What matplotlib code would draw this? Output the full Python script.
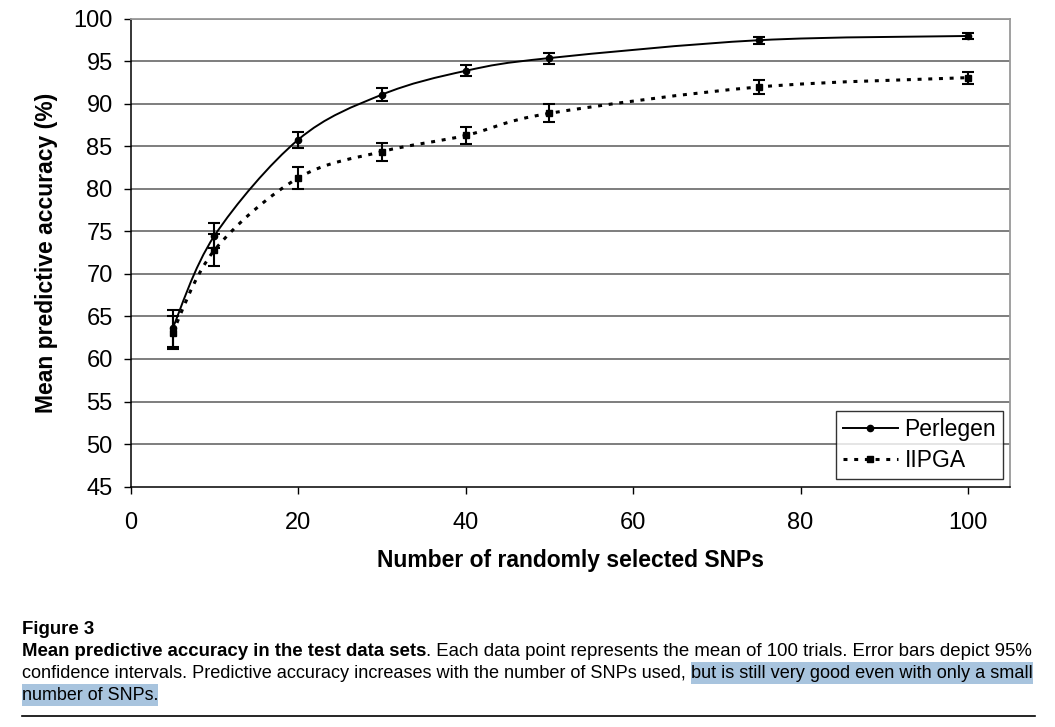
import numpy as np
import matplotlib
matplotlib.use("Agg")
import matplotlib.pyplot as plt
from matplotlib.path import Path
from matplotlib.patches import PathPatch, Rectangle
from matplotlib.lines import Line2D

plt.rcParams['font.family'] = ['Liberation Sans', 'DejaVu Sans']

# data
snps = [5, 10, 20, 30, 40, 50, 75, 100]
perlegen = [63.6, 74.5, 85.8, 91.1, 93.9, 95.4, 97.5, 98.0]
perlegen_err = [2.2, 1.5, 0.95, 0.75, 0.65, 0.65, 0.4, 0.35]
iipga = [63.1, 72.8, 81.3, 84.4, 86.3, 88.9, 92.0, 93.1]
iipga_err = [1.9, 1.9, 1.3, 1.05, 1.05, 1.05, 0.8, 0.7]

yticks = list(range(45, 101, 5))
xticks = [0, 20, 40, 60, 80, 100]


def smooth_path(x, y):
    # excel-style smoothed line: cubic bezier through the points
    p = np.column_stack([x, y]).astype(float)
    n = len(p)
    verts = [p[0]]
    codes = [Path.MOVETO]
    for i in range(n - 1):
        p0 = p[i - 1] if i > 0 else p[i]
        p3 = p[i + 2] if i + 2 < n else p[i + 1]
        c1 = p[i] + (p[i + 1] - p0) / 6.0
        c2 = p[i + 1] - (p3 - p[i]) / 6.0
        verts += [c1, c2, p[i + 1]]
        codes += [Path.CURVE4] * 3
    return Path(verts, codes)


fig = plt.figure(figsize=(10.55, 7.27), dpi=100)
ax = fig.add_axes([0.1239, 0.3308, 0.8334, 0.6431])

ax.set_xlim(0, 105)
ax.set_ylim(45, 100)
ax.set_yticks(yticks)
ax.set_xticks(xticks)
ax.tick_params(axis='y', direction='out', length=5, width=1, pad=8, labelsize=17)
ax.tick_params(axis='x', direction='out', length=5, width=1, pad=13, labelsize=17)

for y in yticks[1:]:
    ax.axhline(y, color='#5a5a5a', lw=1.1, zorder=1)

for side in ['top', 'right']:
    ax.spines[side].set_color('#999999')
    ax.spines[side].set_linewidth(1.3)
for side in ['left', 'bottom']:
    ax.spines[side].set_color('black')
    ax.spines[side].set_linewidth(1.1)

dotted = (0, (1.3, 2.2))

ax.add_patch(PathPatch(smooth_path(snps, perlegen), fill=False, ec='black', lw=1.4, zorder=3))
ax.add_patch(PathPatch(smooth_path(snps, iipga), fill=False, ec='black', lw=2.2,
                       linestyle=dotted, zorder=3))

ax.errorbar(snps, perlegen, yerr=perlegen_err, fmt='none', ecolor='black',
            elinewidth=1.5, capsize=4.5, capthick=1.5, zorder=4)
ax.errorbar(snps, iipga, yerr=iipga_err, fmt='none', ecolor='black',
            elinewidth=1.5, capsize=4.5, capthick=1.5, zorder=4)
ax.plot(snps, perlegen, 'o', color='black', ms=4.5, zorder=5)
ax.plot(snps, iipga, 's', color='black', ms=4.5, zorder=5)

ax.set_xlabel('Number of randomly selected SNPs', fontsize=16.5, fontweight='bold', labelpad=11)
ax.set_ylabel('Mean predictive accuracy (%)', fontsize=16.5, fontweight='bold', labelpad=11)

handles = [
    Line2D([], [], color='black', lw=1.4, marker='o', ms=4.5),
    Line2D([], [], color='black', lw=2.2, linestyle=dotted, marker='s', ms=4.5),
]
leg = ax.legend(handles, ['Perlegen', 'IIPGA'], loc='lower right', fontsize=16.5,
                frameon=True, fancybox=False, handlelength=2.4, handletextpad=0.3,
                borderpad=0.3, labelspacing=0.35, borderaxespad=0,
                bbox_to_anchor=(0.992, 0.016))
leg.get_frame().set_edgecolor('black')
leg.get_frame().set_linewidth(1.0)

# caption below the chart
cap_font = ['Liberation Sans', 'DejaVu Sans']
fs = 13.4
x0 = 22 / 1055
fig.text(x0, 1 - 629 / 727, 'Figure 3', fontsize=fs, fontweight='bold',
         family=cap_font, va='center')

fig.canvas.draw()
renderer = fig.canvas.get_renderer()


def run(parts, ypix, size, right=None):
    # place the pieces of one caption line side by side; shrink to fit if needed
    texts = []
    x = x0
    for txt, weight, hl in parts:
        t = fig.text(x, 1 - ypix / 727, txt, fontsize=size, fontweight=weight,
                     family=cap_font, va='center')
        x = t.get_window_extent(renderer).x1 / 1055
        texts.append(t)
    if right is not None and x * 1055 > right:
        for t in texts:
            t.remove()
        return run(parts, ypix, size * (right - 22) / (x * 1055 - 22))
    for t, (txt, weight, hl) in zip(texts, parts):
        if hl:
            bb = t.get_window_extent(renderer)
            fig.patches.append(Rectangle((bb.x0 / 1055, bb.y0 / 727 - 0.004),
                                         bb.width / 1055, bb.height / 727 + 0.008,
                                         transform=fig.transFigure, fc='#a8c4de',
                                         ec='none', zorder=0))


run([('Mean predictive accuracy in the test data sets', 'bold', False),
     ('. Each data point represents the mean of 100 trials. Error bars depict 95%', 'normal', False)],
    651, fs, right=1033)
run([('confidence intervals. Predictive accuracy increases with the number of SNPs used, ', 'normal', False),
     ('but is still very good even with only a small', 'normal', True)], 673, fs, right=1033)
run([('number of SNPs.', 'normal', True)], 695, fs * 0.96)

fig.add_artist(Line2D([22 / 1055, 1035 / 1055], [1 - 716 / 727, 1 - 716 / 727],
                      color='black', lw=1.2, transform=fig.transFigure))

fig.savefig('out.png', dpi=100)
